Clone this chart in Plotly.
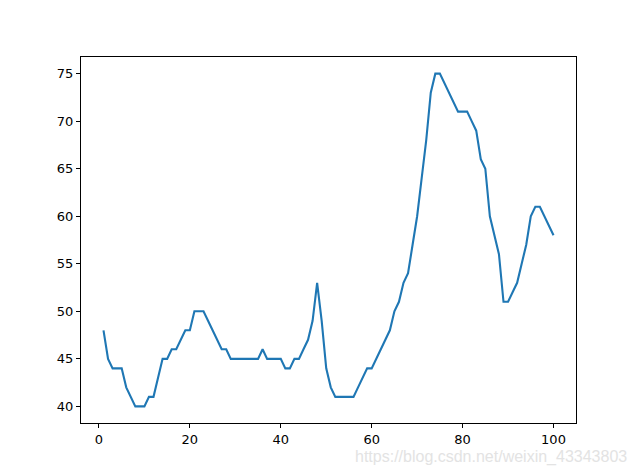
import plotly.graph_objects as go

x_vals = list(range(1, 101))
y_vals = [48, 45, 44, 44, 44, 42, 41, 40, 40, 40,
          41, 41, 43, 45, 45, 46, 46, 47, 48, 48,
          50, 50, 50, 49, 48, 47, 46, 46, 45, 45,
          45, 45, 45, 45, 45, 46, 45, 45, 45, 45,
          44, 44, 45, 45, 46, 47, 49, 53, 49, 44,
          42, 41, 41, 41, 41, 41, 42, 43, 44, 44,
          45, 46, 47, 48, 50, 51, 53, 54, 57, 60,
          64, 68, 73, 75, 75, 74, 73, 72, 71, 71,
          71, 70, 69, 66, 65, 60, 58, 56, 51, 51,
          52, 53, 55, 57, 60, 61, 61, 60, 59, 58]
x_ticks = [0, 20, 40, 60, 80, 100]
y_ticks = [40, 45, 50, 55, 60, 65, 70, 75]
watermark = "https://blog.csdn.net/weixin_43343803"

fig = go.Figure()
fig.add_trace(go.Scatter(x=x_vals, y=y_vals, mode="lines",
                         line=dict(color="#1f77b4", width=2.1), showlegend=False))

axis_common = dict(showgrid=False, zeroline=False, showline=True, linecolor="black",
                   linewidth=1, mirror=True, ticks="outside", ticklen=4, tickwidth=1,
                   tickcolor="black", tickfont=dict(family="DejaVu Sans", size=13, color="black"))
fig.update_xaxes(range=[-3.95, 104.95], tickvals=x_ticks, **axis_common)
fig.update_yaxes(range=[38.25, 76.75], tickvals=y_ticks, **axis_common)

fig.add_annotation(text=watermark, xref="paper", yref="paper", x=1.107, y=-0.093,
                   xanchor="right", yanchor="middle", showarrow=False,
                   font=dict(family="Liberation Sans", size=16, color="#e3e3e3"))

fig.update_layout(width=632, height=468, margin=dict(l=73, r=64, t=49, b=53),
                  plot_bgcolor="white", paper_bgcolor="white")
fig.write_html("out.html")
